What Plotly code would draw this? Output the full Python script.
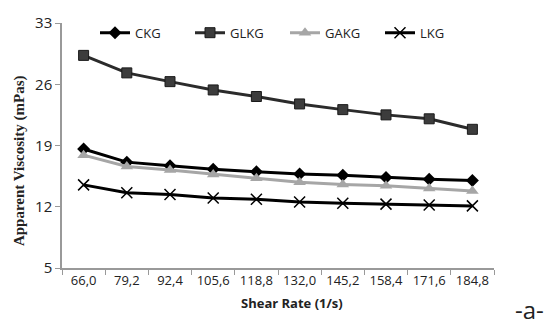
import plotly.graph_objects as go

categories = ["66,0", "79,2", "92,4", "105,6", "118,8", "132,0", "145,2", "158,4", "171,6", "184,8"]
ckg = [18.6, 17.1, 16.7, 16.3, 16.0, 15.75, 15.6, 15.35, 15.15, 15.0]
glkg = [29.3, 27.3, 26.3, 25.35, 24.6, 23.75, 23.1, 22.5, 22.05, 20.85]
gakg = [17.9, 16.6, 16.2, 15.7, 15.25, 14.8, 14.55, 14.4, 14.1, 13.8]
lkg = [14.5, 13.6, 13.4, 13.0, 12.85, 12.55, 12.4, 12.3, 12.2, 12.1]
y_ticks = [5, 12, 19, 26, 33]

fig = go.Figure()
fig.add_trace(go.Scatter(x=categories, y=ckg, name="CKG", mode="lines+markers",
                         line=dict(color="#000000", width=3),
                         marker=dict(symbol="diamond", size=10, color="#000000")))
fig.add_trace(go.Scatter(x=categories, y=glkg, name="GLKG", mode="lines+markers",
                         line=dict(color="#2b2b2b", width=3),
                         marker=dict(symbol="square", size=10, color="#3c3c3c",
                                     line=dict(color="#1a1a1a", width=1))))
fig.add_trace(go.Scatter(x=categories, y=gakg, name="GAKG", mode="lines+markers",
                         line=dict(color="#a6a6a6", width=3),
                         marker=dict(symbol="triangle-up", size=11, color="#a6a6a6")))
fig.add_trace(go.Scatter(x=categories, y=lkg, name="LKG", mode="lines+markers",
                         line=dict(color="#000000", width=3),
                         marker=dict(symbol="x-thin", size=11, color="#000000",
                                     line=dict(color="#000000", width=1.5))))

W_PLOT = 546 - 62 - 52
H_PLOT = 327 - 16 - 59

fig.update_layout(
    width=546, height=327,
    margin=dict(l=62, r=52, t=16, b=59),
    paper_bgcolor="white", plot_bgcolor="white",
    font=dict(family="Open Sans, Liberation Sans, sans-serif", color="#222222"),
    showlegend=True,
    legend=dict(orientation="h", x=(95 - 62) / W_PLOT, y=1 - (26 - 16) / H_PLOT,
                xanchor="left", yanchor="middle",
                bgcolor="rgba(0,0,0,0)", font=dict(size=13, color="#222222"),
                entrywidth=50, entrywidthmode="pixels", itemwidth=30, tracegroupgap=0),
    xaxis=dict(type="category", range=[-0.5, 9.5], tickson="boundaries",
               ticks="outside", ticklen=5, tickcolor="#999999", tickangle=0,
               showline=True, linecolor="#999999", linewidth=1.5,
               showgrid=False, zeroline=False,
               tickfont=dict(size=13, color="#222222")),
    yaxis=dict(range=[5, 33], tickvals=y_ticks, ticks="outside", ticklen=5,
               tickcolor="#999999", showline=True, linecolor="#999999", linewidth=1.5,
               showgrid=False, zeroline=False,
               tickfont=dict(size=15, color="#222222")),
)

fig.add_annotation(text="<b>Apparent Viscosity (mPas)</b>", xref="paper", yref="paper",
                   x=-(62 - 19) / W_PLOT, y=1 - (158 - 16) / H_PLOT, xanchor="center", yanchor="middle",
                   textangle=-90, showarrow=False,
                   font=dict(family="Liberation Serif, DejaVu Serif, serif", size=15, color="#222222"))
fig.add_annotation(text="<b>Shear Rate (1/s)</b>", xref="paper", yref="paper",
                   x=(292 - 62) / W_PLOT, y=-(304 - 268) / H_PLOT, xanchor="center", yanchor="middle",
                   showarrow=False, font=dict(size=13, color="#222222"))
fig.add_annotation(text="-a-", xref="paper", yref="paper",
                   x=(529 - 62) / W_PLOT, y=-(311 - 268) / H_PLOT, xanchor="center", yanchor="middle",
                   showarrow=False, font=dict(size=24, color="#222222"))

fig.write_html("out.html")
